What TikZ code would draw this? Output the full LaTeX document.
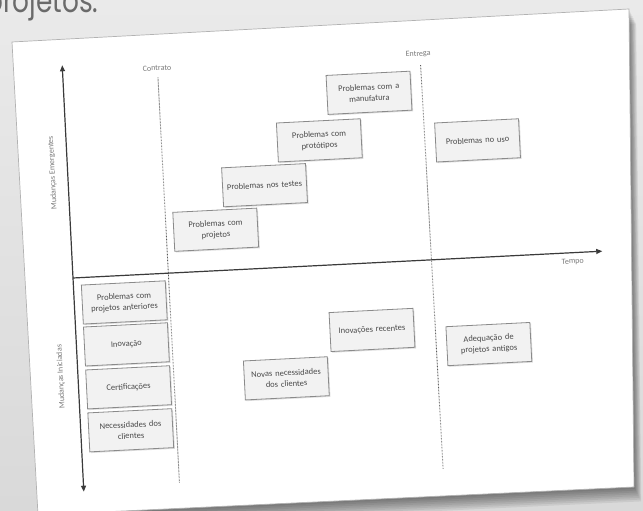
\documentclass[tikz,border=0pt]{standalone}
\usepackage{fontspec}
\newfontfamily\boxfont{Carlito}
\newfontfamily\headfont{Poppins}
\usetikzlibrary{arrows.meta,shadows}

\definecolor{bgtop}{HTML}{EAEAEA}
\definecolor{bgbot}{HTML}{D9D9D9}
\definecolor{headgray}{HTML}{6A6A6A}
\definecolor{axisgray}{HTML}{3A3A3A}
\definecolor{guidegray}{HTML}{5A5A5A}
\definecolor{labelgray}{HTML}{7A7A7A}
\definecolor{boxtext}{HTML}{4A4A4A}
\definecolor{boxedge}{HTML}{8A8A8A}
\definecolor{boxfill}{HTML}{F2F2F2}

\tikzset{
  changebox/.style={draw=boxedge, fill=boxfill, line width=0.8pt,
    minimum width=84pt, minimum height=39pt, text width=78pt, align=center,
    inner sep=2pt, text=boxtext, transform shape,
    font=\boxfont\fontsize{8.5}{11}\selectfont,
    drop shadow={shadow xshift=1.2pt, shadow yshift=-1.2pt, opacity=0.25}},
  axislabel/.style={text=labelgray, transform shape, inner sep=1pt,
    font=\boxfont\fontsize{8}{10}\selectfont},
  axisline/.style={draw=axisgray, line width=1.2pt,
    -{Triangle[length=6pt, width=5pt]}},
  milestone/.style={draw=guidegray, line width=0.9pt, dotted,
    dash pattern=on 0.6pt off 0.9pt},
}

\begin{document}
\begin{tikzpicture}[x=1pt, y=1pt]
\useasboundingbox (0,0) rectangle (643,511);

% slide background
\shade[top color=bgtop, bottom color=bgbot] (0,0) rectangle (643,511);

% slide heading, partly above the visible area
\node[anchor=base west, inner sep=0, text=headgray, xscale=0.8, transform shape,
      font=\headfont\fontsize{33}{33}\selectfont] (heading) at (-15,498) {projetos.};

% soft shadow under the sheet
\foreach \k in {1,...,8} {
  \fill[black, opacity=0.065, shift={(0.9*\k,-1.8*\k)}]
    (12,469) -- (629,502) -- (634,24) -- (38,-4) -- cycle;
}

% the sheet of paper
\fill[white] (12,469) -- (629,502) -- (634,24) -- (38,-4) -- cycle;
\draw[gray!60, line width=0.7pt] (12,469) -- (629,502) -- (634,24) -- (38,-4) -- cycle;

\begin{scope}[shift={(73,233)}, rotate=2.9]
  % axes
  \coordinate (origin) at (0,0);
  \coordinate (upEnd) at (0,213);
  \coordinate (downEnd) at (0,-214);
  \coordinate (timeEnd) at (530,0);
  \draw[axisline] (origin) -- (upEnd);
  \draw[axisline] (origin) -- (downEnd);
  \draw[axisline] (origin) -- (timeEnd);

  % milestones
  \coordinate (contratoTop) at (95,196);
  \coordinate (contratoBot) at (96,-210);
  \coordinate (entregaTop) at (358,195);
  \coordinate (entregaBot) at (360,-210);
  \draw[milestone] (contratoTop) -- (contratoBot);
  \draw[milestone] (entregaTop) -- (entregaBot);

  \node[axislabel] (contrato) at (94.5,205.5) {Contrato};
  \node[axislabel] (entrega) at (356,206) {Entrega};
  \node[axislabel] (tempo) at (500,-9) {Tempo};
  \node[axislabel, rotate=90] (emergentes) at (-15,106) {Mudanças Emergentes};
  \node[axislabel, rotate=90] (iniciadas) at (-17,-98) {Mudanças Iniciadas};

  % emergent changes
  \node[changebox] (pproj) at (145,41) {Problemas com\\projetos};
  \node[changebox] (ptest) at (196,83) {Problemas nos testes};
  \node[changebox] (pprot) at (253,125) {Problemas com\\protótipos};
  \node[changebox] (pmanu) at (305,170) {Problemas com a\\manufatura};
  \node[changebox] (puso) at (411,117) {Problemas no uso};

  % initiated changes
  \node[changebox] (pant) at (50,-27) {Problemas com\\projetos anteriores};
  \node[changebox] (inov) at (50,-69) {Inovação};
  \node[changebox] (cert) at (50,-112) {Certificações};
  \node[changebox] (necc) at (50,-155) {Necessidades dos\\clientes};
  \node[changebox] (novas) at (208,-111) {Novas necessidades\\dos clientes};
  \node[changebox] (irec) at (296,-67) {Inovações recentes};
  \node[changebox] (adeq) at (412,-87) {Adequação de\\projetos antigos};
\end{scope}
\end{tikzpicture}
\end{document}
